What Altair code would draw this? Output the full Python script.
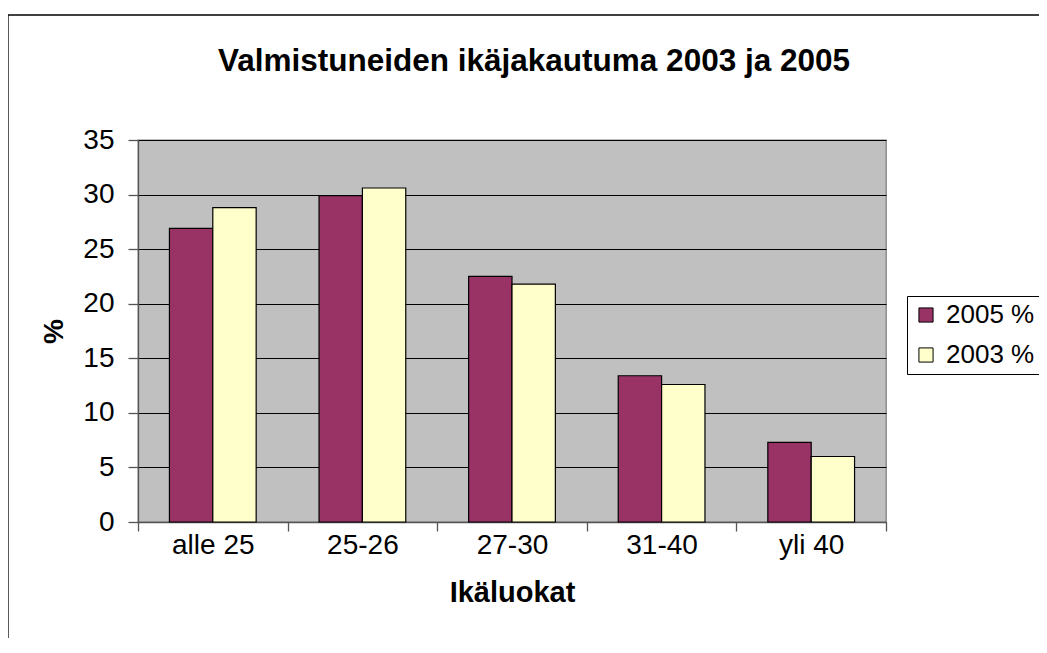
import altair as alt
import pandas as pd

categories = ["alle 25", "25-26", "27-30", "31-40", "yli 40"]
series = ["2005 %", "2003 %"]
values_2005 = [26.9, 29.9, 22.5, 13.4, 7.3]
values_2003 = [28.8, 30.6, 21.8, 12.6, 6.0]
colors = ["#993366", "#FFFFCC"]
y_ticks = [0, 5, 10, 15, 20, 25, 30, 35]

rows = []
for c, a, b in zip(categories, values_2005, values_2003):
    rows.append({"cat": c, "series": series[0], "value": a})
    rows.append({"cat": c, "series": series[1], "value": b})
df = pd.DataFrame(rows)

FONT = "Liberation Sans"

bars = alt.Chart(df).mark_bar(stroke="black", strokeWidth=1.2).encode(
    x=alt.X(
        "cat:N", sort=categories,
        scale=alt.Scale(paddingInner=0, paddingOuter=0),
        axis=alt.Axis(
            title="Ikäluokat", labelAngle=0, tickBand="extent", tickSize=9,
            labelFontSize=28, labelPadding=0, titleFontSize=29, titleFontWeight="bold",
            titlePadding=19, grid=False,
        ),
    ),
    xOffset=alt.XOffset(
        "series:N", sort=series,
        scale=alt.Scale(paddingInner=0, paddingOuter=0.725),
    ),
    y=alt.Y(
        "value:Q",
        scale=alt.Scale(domain=[0, 35], nice=False),
        axis=alt.Axis(
            values=y_ticks, title="%", tickSize=10, labelFontSize=28, labelPadding=14,
            titleFontSize=28, titleFontWeight="bold", titlePadding=14, grid=True,
        ),
    ),
    color=alt.Color(
        "series:N", sort=series,
        scale=alt.Scale(domain=series, range=colors),
        legend=alt.Legend(
            title=None, orient="none", legendX=769, legendY=156, padding=6,
            fillColor="white", strokeColor="black", labelFontSize=26, labelFont=FONT,
            symbolType="square", symbolSize=200, symbolStrokeColor="black",
            symbolStrokeWidth=1, rowPadding=14, labelOffset=7, labelColor="black",
        ),
    ),
)

frame = pd.DataFrame({"k": [0]})
border_left = alt.Chart(frame).mark_rule(color="black", strokeWidth=1.3).encode(
    x=alt.value(-130), y=alt.value(-125), y2=alt.value(700)
)
border_top = alt.Chart(frame).mark_rule(color="black", strokeWidth=1.3).encode(
    x=alt.value(-130), x2=alt.value(1100), y=alt.value(-125)
)

chart = alt.layer(border_left, border_top, bars).properties(
    width=748,
    height=382,
    autosize=alt.AutoSizeParams(type="none"),
    padding={"left": 130, "top": 132, "right": 153, "bottom": 116},
    title=alt.TitleParams(
        text="Valmistuneiden ikäjakautuma 2003 ja 2005", fontSize=31.5, font=FONT,
        fontWeight="bold", anchor="middle", dx=22, offset=-63, color="black",
    ),
).configure(
    font=FONT, background="white",
).configure_view(
    stroke="#808080", fill="#C0C0C0", strokeWidth=1.3,
).configure_axis(
    labelFont=FONT, titleFont=FONT, labelColor="black", titleColor="black",
    domainColor="#555555", tickColor="#555555", gridColor="black", gridWidth=1,
    domainWidth=1.3, tickWidth=1.3,
)

chart.save("out.html", embed_options={"renderer": "svg", "actions": False})
